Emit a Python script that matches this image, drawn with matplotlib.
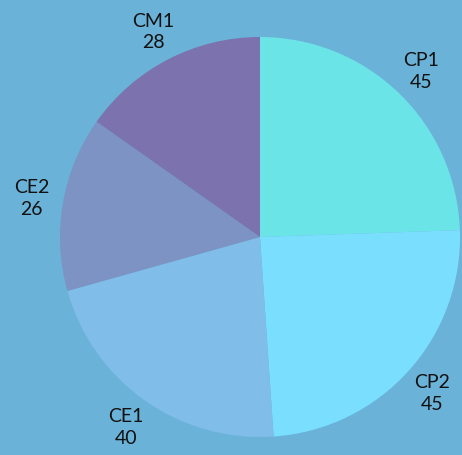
import matplotlib.pyplot as plt

labels = ['CP1', 'CP2', 'CE1', 'CE2', 'CM1']
values = [45, 45, 40, 26, 28]
colors = ['#6be4e8', '#7adfff', '#80bde8', '#7c93c4', '#7b72ae']
bg = '#6ab2d8'

fig = plt.figure(figsize=(4.62, 4.56), dpi=100, facecolor=bg)
# square axes centred on the pie, 500px wide -> radius 1 = 200px
ax = fig.add_axes([10 / 462, -32 / 456, 500 / 462, 500 / 456])
ax.set_facecolor(bg)
ax.axis('off')

ax.pie(values, colors=colors, startangle=90, counterclock=False,
       labels=[f'{l}\n{v}' for l, v in zip(labels, values)],
       labeldistance=1.16,
       textprops=dict(fontsize=14, family='Lato', color='#111111',
                      ha='center', va='center', linespacing=1.35))
ax.set_xlim(-1.25, 1.25)
ax.set_ylim(-1.25, 1.25)
ax.set_aspect('equal')

fig.savefig('out.png', facecolor=bg)
